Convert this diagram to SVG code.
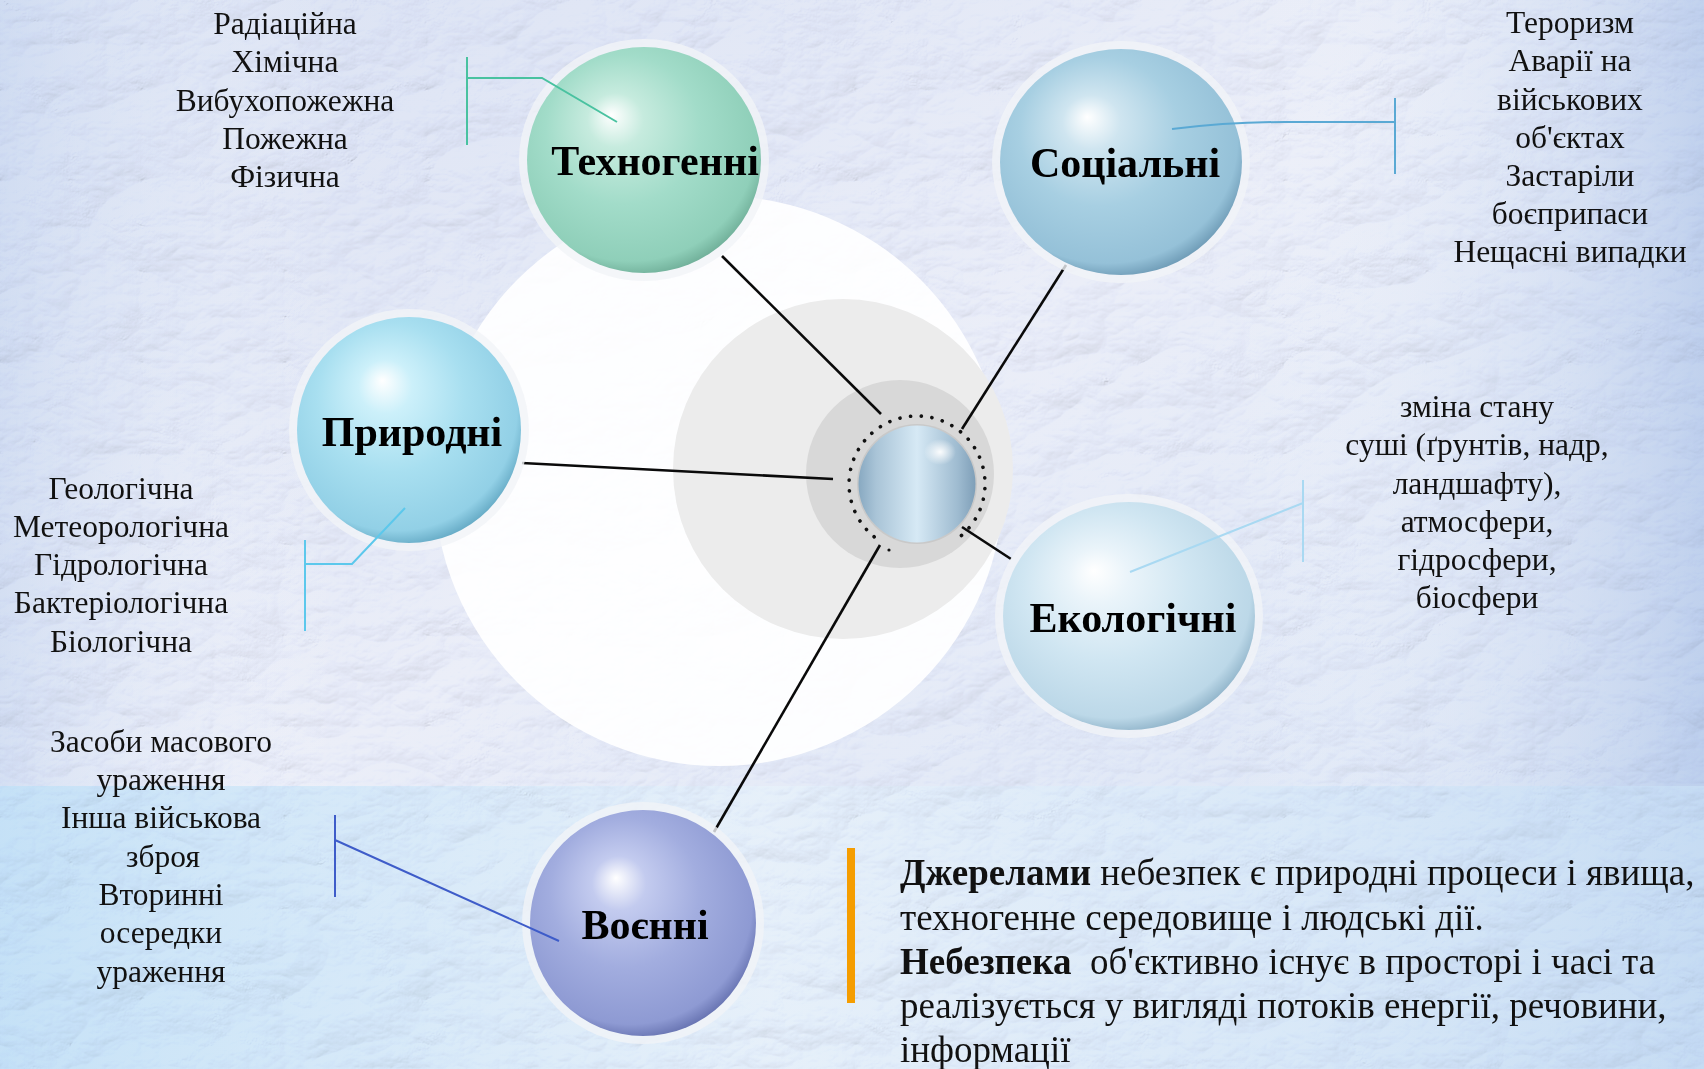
<svg xmlns="http://www.w3.org/2000/svg" width="1704" height="1069" viewBox="0 0 1704 1069">
<defs>
<style>
.lst{font-family:"Liberation Serif","Times New Roman",serif;font-size:31.5px;fill:#111;text-anchor:middle}
.lbl{font-family:"Liberation Serif","Times New Roman",serif;font-size:42px;font-weight:bold;fill:#000;text-anchor:middle}
.body{font-family:"Liberation Serif","Times New Roman",serif;font-size:37px;fill:#111}
.conn{stroke:#0a0a0a;stroke-width:2.6;fill:none}
.halo{fill:#f1f4f8;opacity:0.8}
</style>
<linearGradient id="bg" x1="0" y1="0" x2="1" y2="1">
<stop offset="0" stop-color="#d9e1f3"/>
<stop offset="0.45" stop-color="#ebeef8"/>
<stop offset="0.8" stop-color="#dee7f6"/>
<stop offset="1" stop-color="#c6dcf2"/>
</linearGradient>
<linearGradient id="bgr" x1="0" y1="0" x2="1" y2="0">
<stop offset="0" stop-color="#c9d8f0" stop-opacity="0.6"/>
<stop offset="0.2" stop-color="#ffffff" stop-opacity="0"/>
<stop offset="0.72" stop-color="#ffffff" stop-opacity="0"/>
<stop offset="1" stop-color="#b5c9ea" stop-opacity="0.75"/>
</linearGradient>
<linearGradient id="band" x1="0" y1="0" x2="1" y2="0">
<stop offset="0" stop-color="#c2e1f7"/>
<stop offset="0.45" stop-color="#e7f1fa"/>
<stop offset="0.75" stop-color="#d9e9f8"/>
<stop offset="1" stop-color="#c8def4"/>
</linearGradient>
<filter id="paper" x="0" y="0" width="1" height="1">
<feTurbulence type="turbulence" baseFrequency="0.007 0.011" numOctaves="5" seed="7" result="n"/>
<feColorMatrix in="n" type="matrix" values="0 0 0 0 0  0 0 0 0 0  0 0 0 0 0  1 0 0 0 0" result="a"/>
<feDiffuseLighting in="a" surfaceScale="5" diffuseConstant="1.25" lighting-color="#f4f6ff" result="l">
<feDistantLight azimuth="235" elevation="55"/>
</feDiffuseLighting>
</filter>
<radialGradient id="gTech" cx="0.45" cy="0.42" r="0.6" fx="0.36" fy="0.3">
<stop offset="0" stop-color="#ffffff"/>
<stop offset="0.2" stop-color="#c6ebde"/>
<stop offset="0.55" stop-color="#a2dcc9"/>
<stop offset="0.9" stop-color="#8fcfb9"/>
<stop offset="1" stop-color="#6fae98"/>
</radialGradient>
<radialGradient id="gSoc" cx="0.45" cy="0.42" r="0.6" fx="0.36" fy="0.3">
<stop offset="0" stop-color="#ffffff"/>
<stop offset="0.2" stop-color="#cfe5f0"/>
<stop offset="0.55" stop-color="#a7cfe2"/>
<stop offset="0.9" stop-color="#95c1d8"/>
<stop offset="1" stop-color="#6d9ab5"/>
</radialGradient>
<radialGradient id="gNat" cx="0.45" cy="0.42" r="0.6" fx="0.38" fy="0.28">
<stop offset="0" stop-color="#ffffff"/>
<stop offset="0.2" stop-color="#ccf0fa"/>
<stop offset="0.55" stop-color="#a8dff0"/>
<stop offset="0.9" stop-color="#92d0e6"/>
<stop offset="1" stop-color="#64a9c4"/>
</radialGradient>
<radialGradient id="gEco" cx="0.45" cy="0.42" r="0.6" fx="0.36" fy="0.3">
<stop offset="0" stop-color="#ffffff"/>
<stop offset="0.2" stop-color="#eaf4fa"/>
<stop offset="0.55" stop-color="#d0e6f2"/>
<stop offset="0.9" stop-color="#bcd8e8"/>
<stop offset="1" stop-color="#8fb3c9"/>
</radialGradient>
<radialGradient id="gMil" cx="0.45" cy="0.42" r="0.6" fx="0.38" fy="0.3">
<stop offset="0" stop-color="#ffffff"/>
<stop offset="0.2" stop-color="#c3cbef"/>
<stop offset="0.55" stop-color="#a2addf"/>
<stop offset="0.9" stop-color="#8e9ad3"/>
<stop offset="1" stop-color="#6672b0"/>
</radialGradient>
<linearGradient id="gCore" x1="0" y1="0" x2="1" y2="0">
<stop offset="0" stop-color="#88a9c1"/>
<stop offset="0.15" stop-color="#a9c4d7"/>
<stop offset="0.5" stop-color="#d6e9f5"/>
<stop offset="0.85" stop-color="#9ebbd0"/>
<stop offset="1" stop-color="#7f9fb8"/>
</linearGradient>
<radialGradient id="gSpot" cx="0.5" cy="0.5" r="0.5">
<stop offset="0" stop-color="#ffffff" stop-opacity="0.95"/>
<stop offset="1" stop-color="#ffffff" stop-opacity="0"/>
</radialGradient>
</defs>

<g id="background">
<rect width="1704" height="1069" fill="url(#bg)"/>
<rect width="1704" height="1069" fill="url(#bgr)"/>
<rect y="786" width="1704" height="283" fill="url(#band)" opacity="0.85"/>
<rect width="1704" height="1069" fill="#fff" filter="url(#paper)" opacity="0.4" style="mix-blend-mode:multiply"/>
<circle cx="719" cy="481" r="285" fill="#ffffff" opacity="0.92"/>
<circle cx="843" cy="469" r="170" fill="#ececec"/>
<circle cx="900" cy="474" r="94" fill="#d8d8d8"/>
</g>

<g id="connectors">
<line class="conn" x1="722" y1="256" x2="881" y2="414"/>
<line class="conn" x1="1066" y1="265" x2="962" y2="429"/>
<line class="conn" x1="522" y1="463" x2="833" y2="479"/>
<line class="conn" x1="1011" y1="559" x2="962" y2="527"/>
<line class="conn" x1="714" y1="832" x2="880" y2="545"/>
</g>

<g id="center">
<path d="M874.2 536.8 A68 68 0 1 1 957 539" fill="none" stroke="#111" stroke-width="3.6" stroke-linecap="round" stroke-dasharray="0.1 10.6"/>
<circle cx="889" cy="550" r="1.6" fill="#111"/>
<circle cx="917" cy="484" r="60" fill="#c9c9c9"/>
<circle cx="917" cy="484" r="58.5" fill="url(#gCore)"/>
<ellipse cx="940" cy="452" rx="16" ry="13" fill="url(#gSpot)"/>
</g>

<g id="techno">
<ellipse class="halo" cx="644" cy="160" rx="125" ry="121"/>
<ellipse cx="644" cy="160" rx="117" ry="113" fill="url(#gTech)"/>
<text class="lbl" x="655" y="175">Техногенні</text>
</g>

<g id="social">
<ellipse class="halo" cx="1121" cy="162" rx="129" ry="121"/>
<ellipse cx="1121" cy="162" rx="121" ry="113" fill="url(#gSoc)"/>
<text class="lbl" x="1125" y="177">Соціальні</text>
</g>

<g id="natural">
<ellipse class="halo" cx="409" cy="430" rx="120" ry="121"/>
<ellipse cx="409" cy="430" rx="112" ry="113" fill="url(#gNat)"/>
<text class="lbl" x="412" y="446">Природні</text>
</g>

<g id="ecology">
<ellipse class="halo" cx="1129" cy="616" rx="134" ry="122"/>
<ellipse cx="1129" cy="616" rx="126" ry="114" fill="url(#gEco)"/>
<text class="lbl" x="1133" y="632">Екологічні</text>
</g>

<g id="military">
<ellipse class="halo" cx="643" cy="923" rx="121" ry="121"/>
<ellipse cx="643" cy="923" rx="113" ry="113" fill="url(#gMil)"/>
<text class="lbl" x="645" y="939">Воєнні</text>
</g>

<g id="brackets" fill="none" stroke-width="2">
<path d="M467 57 V145 M467 78 H542 L617 122" stroke="#49c2a0"/>
<path d="M1172 129 Q1230 122 1285 122 H1395 M1395 98 V174" stroke="#5aa9d4"/>
<path d="M305 540 V631 M305 564 H352 L405 508" stroke="#5cc8ec"/>
<path d="M1303 480 V562 M1303 503 L1130 572" stroke="#a9d9f2"/>
<path d="M335 815 V897 M335 840 L559 941" stroke="#3e5cc9"/>
</g>

<g id="list-techno">
<text class="lst" x="285" y="34">Радіаційна</text>
<text class="lst" x="285" y="72">Хімічна</text>
<text class="lst" x="285" y="111">Вибухопожежна</text>
<text class="lst" x="285" y="149">Пожежна</text>
<text class="lst" x="285" y="187">Фізична</text>
</g>

<g id="list-social">
<text class="lst" x="1570" y="33">Тероризм</text>
<text class="lst" x="1570" y="71">Аварії на</text>
<text class="lst" x="1570" y="110">військових</text>
<text class="lst" x="1570" y="148">об'єктах</text>
<text class="lst" x="1570" y="186">Застаріли</text>
<text class="lst" x="1570" y="224">боєприпаси</text>
<text class="lst" x="1570" y="262">Нещасні випадки</text>
</g>

<g id="list-natural">
<text class="lst" x="121" y="499">Геологічна</text>
<text class="lst" x="121" y="537">Метеорологічна</text>
<text class="lst" x="121" y="575">Гідрологічна</text>
<text class="lst" x="121" y="613">Бактеріологічна</text>
<text class="lst" x="121" y="652">Біологічна</text>
</g>

<g id="list-ecology">
<text class="lst" x="1477" y="417">зміна стану</text>
<text class="lst" x="1477" y="455">суші (ґрунтів, надр,</text>
<text class="lst" x="1477" y="494">ландшафту),</text>
<text class="lst" x="1477" y="532">атмосфери,</text>
<text class="lst" x="1477" y="570">гідросфери,</text>
<text class="lst" x="1477" y="608">біосфери</text>
</g>

<g id="list-military">
<text class="lst" x="161" y="752">Засоби масового</text>
<text class="lst" x="161" y="790">ураження</text>
<text class="lst" x="161" y="828">Інша військова</text>
<text class="lst" x="163" y="867">зброя</text>
<text class="lst" x="161" y="905">Вторинні</text>
<text class="lst" x="161" y="943">осередки</text>
<text class="lst" x="161" y="982">ураження</text>
</g>

<g id="note">
<rect x="847" y="848" width="8" height="155" fill="#f59d00"/>
<text class="body" x="900" y="885"><tspan font-weight="bold">Джерелами</tspan> небезпек є природні процеси і явища,</text>
<text class="body" x="900" y="930">техногенне середовище і людські дії.</text>
<text class="body" x="900" y="974" xml:space="preserve"><tspan font-weight="bold">Небезпека</tspan>  об'єктивно існує в просторі і часі та</text>
<text class="body" x="900" y="1018">реалізується у вигляді потоків енергії, речовини,</text>
<text class="body" x="900" y="1062">інформації</text>
</g>
</svg>
